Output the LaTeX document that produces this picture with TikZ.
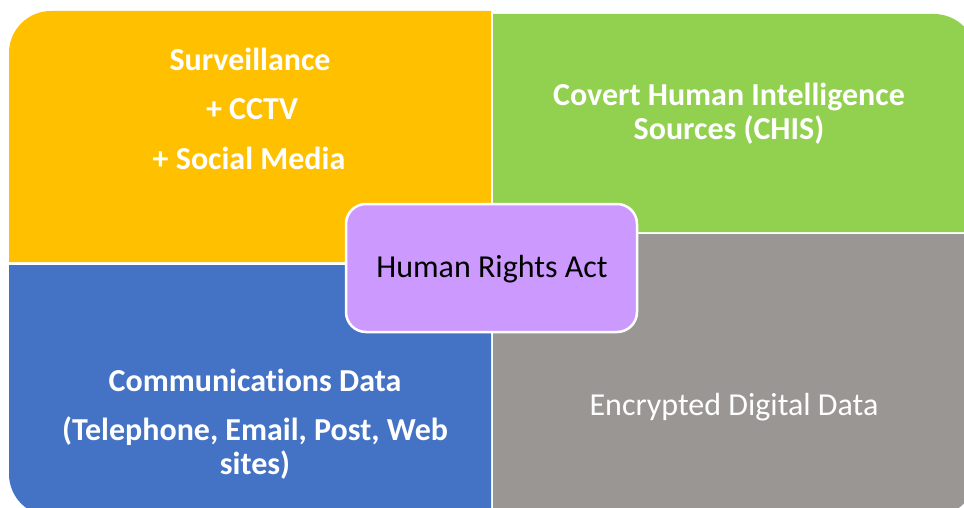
\documentclass[tikz,border=0pt]{standalone}
\usepackage{fontspec}
\setmainfont{Carlito}[Ligatures={NoCommon}]
\definecolor{qorange}{HTML}{FFC000}
\definecolor{qgreen}{HTML}{92D050}
\definecolor{qblue}{HTML}{4472C4}
\definecolor{qgray}{HTML}{9A9694}
\definecolor{qpurple}{HTML}{CC99FF}
\begin{document}
\begin{tikzpicture}[x=1pt,y=-1pt,
  lbl/.style={anchor=base,inner sep=0pt,text=white,font=\fontsize{32}{35}\selectfont\bfseries},
  lblr/.style={anchor=base,inner sep=0pt,font=\fontsize{32}{35}\selectfont},
  hub/.style={draw=white,line width=2.5pt,fill=qpurple,rounded corners=20pt}]
\useasboundingbox (0,0) rectangle (964,508);
\clip (0,0) rectangle (964,508);
% quadrants
\fill[qorange] (9,262) [rounded corners=42] -- (9,11) [sharp corners] -- (491,11) -- (491,262) -- cycle;
\fill[qgreen] (493,14) [rounded corners=42] -- (976,14) [sharp corners] -- (976,232) -- (493,232) -- cycle;
\fill[qblue] (9,265) -- (491,265) -- (491,516) [rounded corners=42] -- (9,516) [sharp corners] -- cycle;
\fill[qgray] (493,234) -- (976,234) [rounded corners=42] -- (976,516) [sharp corners] -- (493,516) -- cycle;
% centre
\draw[hub] (346,204) rectangle (637,332);
\node[lblr,text=black] (hra) at (492,277.5) {Human Rights Act};
% texts
\node[lbl] (sv1) at (250,70.5) {Surveillance};
\node[lbl] (sv2) at (252,120) {+ CCTV};
\node[lbl] (sv3) at (249,169.5) {+ Social Media};
\node[lbl] (ch1) at (729,105.5) {Covert Human Intelligence};
\node[lbl] (ch2) at (729,139.5) {Sources (CHIS)};
\node[lbl] (cd1) at (255,391) {Communications Data};
\node[lbl] (cd2) at (255,440) {(Telephone, Email, Post, Web};
\node[lbl] (cd3) at (255,474) {sites)};
\node[lblr,text=white] (enc) at (734,415.5) {Encrypted Digital Data};
\end{tikzpicture}
\end{document}
